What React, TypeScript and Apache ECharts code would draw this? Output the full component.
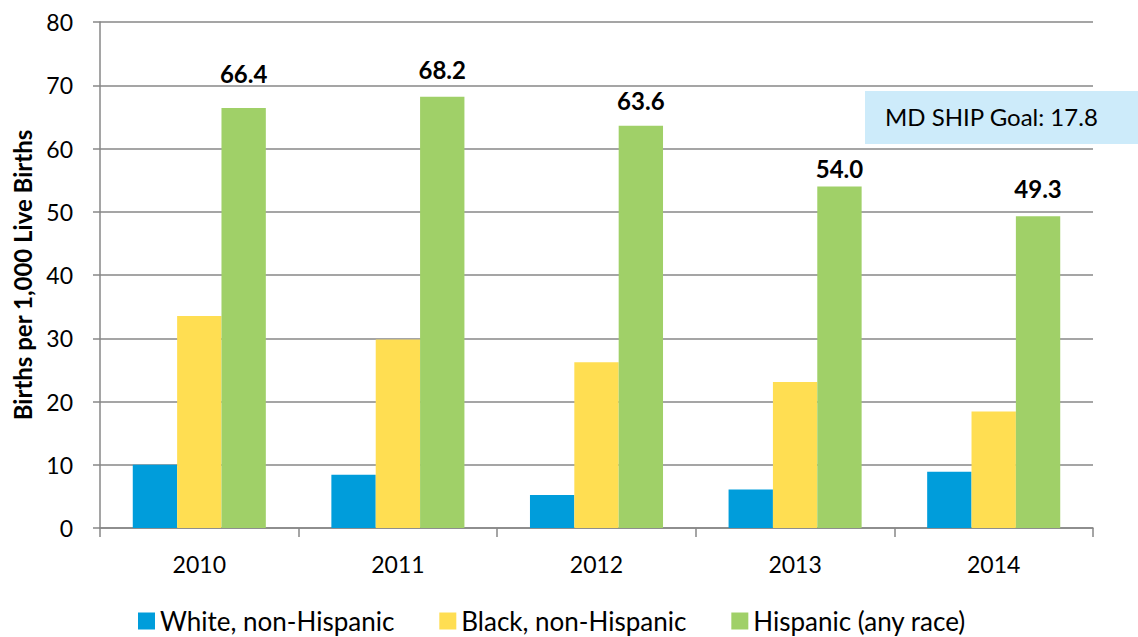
import React, { useEffect, useRef } from "react";
import * as echarts from "echarts";

const categories = ["2010", "2011", "2012", "2013", "2014"];
const seriesNames = ["White, non-Hispanic", "Black, non-Hispanic", "Hispanic (any race)"];
const whiteValues = [10.0, 8.4, 5.2, 6.1, 8.9];
const blackValues = [33.5, 29.8, 26.2, 23.1, 18.4];
const hispanicValues = [66.4, 68.2, 63.6, 54.0, 49.3];
const yTicks = { min: 0, max: 80, interval: 10 };
const yAxisTitle = "Births per 1,000 Live Births";
const goalText = "MD SHIP Goal: 17.8";

// label lift above each Hispanic bar (style only)
const labelDistances = [23, 15, 13, 6, 16];

const FONT = "Lato, 'Liberation Sans', sans-serif";
const colors = ["#009ddb", "#ffde52", "#a0d068"];
const gridColor = "#878787";

export default function App() {
  const ref = useRef<HTMLDivElement>(null);
  useEffect(() => {
    if (!ref.current) return;
    const chart = echarts.init(ref.current, undefined, { renderer: "svg" });
    const option: any = {
      animation: false,
      backgroundColor: "#ffffff",
      textStyle: { fontFamily: FONT, color: "#000" },
      grid: { left: 100, right: 45, top: 22, bottom: 109, containLabel: false },
      legend: {
        left: 133,
        top: 603,
        itemWidth: 17,
        itemHeight: 17,
        itemGap: 45,
        icon: "rect",
        textStyle: { fontFamily: FONT, fontSize: 26, color: "#000", padding: [0, 0, 0, 0] },
        data: seriesNames,
      },
      xAxis: {
        type: "category",
        data: categories,
        axisLine: { show: true, lineStyle: { color: gridColor, width: 1.5 } },
        axisTick: { show: true, length: 9, lineStyle: { color: gridColor, width: 1.5 } },
        axisLabel: { fontFamily: FONT, fontSize: 23, color: "#000", margin: 24 },
      },
      yAxis: {
        type: "value",
        min: yTicks.min,
        max: yTicks.max,
        interval: yTicks.interval,
        name: yAxisTitle,
        nameLocation: "middle",
        nameGap: 66,
        nameTextStyle: { fontFamily: FONT, fontSize: 24, fontWeight: "bold", color: "#000" },
        axisLine: { show: true, lineStyle: { color: gridColor, width: 1.5 } },
        axisTick: { show: true, length: 7, lineStyle: { color: gridColor, width: 1.5 } },
        axisLabel: { fontFamily: FONT, fontSize: 23, color: "#000", margin: 27 },
        splitLine: { show: true, lineStyle: { color: gridColor, width: 1.5 } },
      },
      series: [
        {
          name: seriesNames[0],
          type: "bar",
          data: whiteValues,
          itemStyle: { color: colors[0] },
          barGap: "0%",
          barCategoryGap: "33%",
        },
        {
          name: seriesNames[1],
          type: "bar",
          data: blackValues,
          itemStyle: { color: colors[1] },
          barGap: "0%",
          barCategoryGap: "33%",
        },
        {
          name: seriesNames[2],
          type: "bar",
          data: hispanicValues.map((v, i) => ({
            value: v,
            label: { distance: labelDistances[i] },
          })),
          itemStyle: { color: colors[2] },
          barGap: "0%",
          barCategoryGap: "33%",
          label: {
            show: true,
            position: "top",
            fontFamily: FONT,
            fontSize: 24,
            fontWeight: "bold",
            color: "#000",
            formatter: (p: any) => Number(p.value).toFixed(1),
          },
        },
      ],
      graphic: [
        {
          type: "rect",
          left: 865,
          top: 91,
          shape: { width: 273, height: 53 },
          style: { fill: "#cdebfa" },
          z: 10,
        },
        {
          type: "text",
          left: 885,
          top: 104,
          style: { text: goalText, fontFamily: FONT, fontSize: 24, fill: "#000" },
          z: 11,
        },
      ],
    };
    chart.setOption(option);
    return () => chart.dispose();
  }, []);
  return (
    <div
      ref={ref}
      style={{ position: "fixed", left: 0, top: 0, width: 1138, height: 637, background: "#fff" }}
    />
  );
}
